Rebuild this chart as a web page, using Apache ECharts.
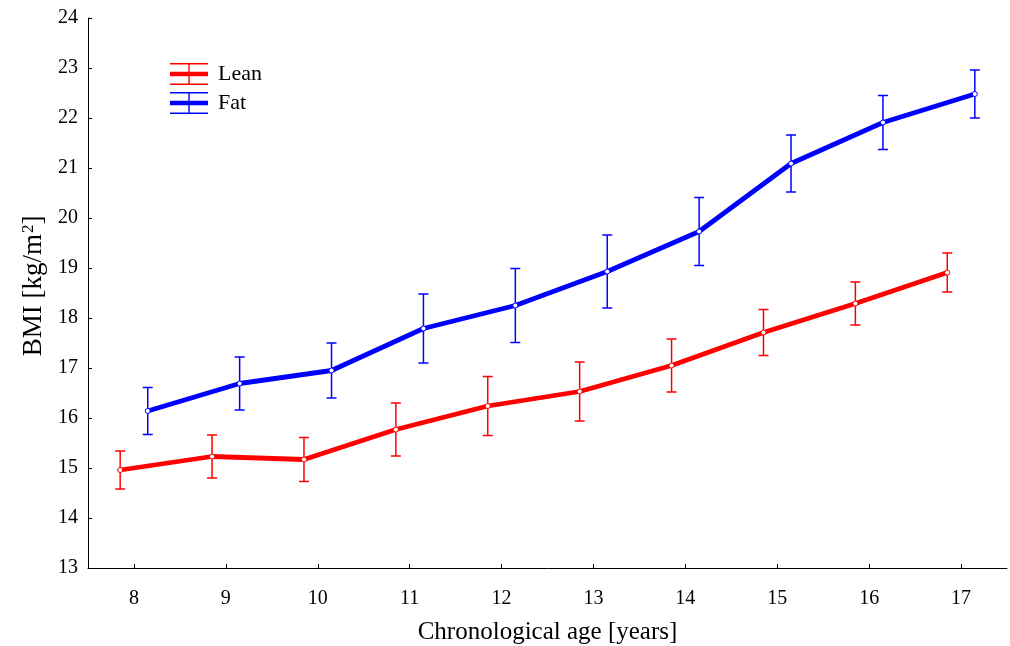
<!DOCTYPE html>
<html>
<head>
<meta charset="utf-8">
<title>BMI by chronological age</title>
<script src="https://cdn.jsdelivr.net/npm/echarts@6/dist/echarts.min.js"></script>
<style>
  html, body { margin: 0; padding: 0; background: #ffffff; }
  #chart { width: 1010px; height: 646px; }
</style>
</head>
<body>
<div id="chart"></div>
<script>
// Age groups (years) and the horizontal nudge that keeps the two groups apart
const ages = [8, 9, 10, 11, 12, 13, 14, 15, 16, 17];
const groupOffset = 0.15;

// Mean BMI and error-bar half widths for each group
const leanMean = [14.96, 15.23, 15.17, 15.77, 16.24, 16.53, 17.05, 17.71, 18.29, 18.91];
const leanErr  = [0.38, 0.43, 0.44, 0.53, 0.59, 0.59, 0.53, 0.46, 0.43, 0.39];
const fatMean  = [16.14, 16.69, 16.95, 17.79, 18.25, 18.93, 19.73, 21.09, 21.91, 22.48];
const fatErr   = [0.47, 0.53, 0.55, 0.69, 0.74, 0.73, 0.68, 0.57, 0.54, 0.48];

// Y axis tick labels
const bmiTicks = [13, 14, 15, 16, 17, 18, 19, 20, 21, 22, 23, 24];

const RED = '#ff0000';
const BLUE = '#0000ff';
const FONT = "'Liberation Serif', 'Times New Roman', serif";

function points(means, shift) {
  return ages.map((a, i) => [a + shift, means[i]]);
}
function bars(means, errs, shift) {
  return ages.map((a, i) => [a + shift, means[i] - errs[i], means[i] + errs[i]]);
}

// Vertical whisker with caps, positioned through the axis scales
function whisker(color) {
  return function (params, api) {
    const x = api.value(0);
    const lo = api.coord([x, api.value(1)]);
    const hi = api.coord([x, api.value(2)]);
    const cap = 5;
    const style = { stroke: color, lineWidth: 1.5, fill: null };
    return {
      type: 'group',
      children: [
        { type: 'line', shape: { x1: lo[0], y1: lo[1], x2: hi[0], y2: hi[1] }, style },
        { type: 'line', shape: { x1: hi[0] - cap, y1: hi[1], x2: hi[0] + cap, y2: hi[1] }, style },
        { type: 'line', shape: { x1: lo[0] - cap, y1: lo[1], x2: lo[0] + cap, y2: lo[1] }, style }
      ]
    };
  };
}

// Legend key: thick line crossed by a capped whisker
const legendIcon = 'path://M0,0H38V1.4H0Z M0,20.6H38V22H0Z M18.3,0H19.7V22H18.3Z M0,8.8H38V13.2H0Z';

const chart = echarts.init(document.getElementById('chart'), null, { renderer: 'canvas' });

chart.setOption({
  backgroundColor: '#ffffff',
  animation: false,
  textStyle: { fontFamily: FONT, color: '#000' },
  grid: { left: 88, right: 3, top: 18, bottom: 78, outerBoundsMode: 'none' },
  legend: {
    left: 165,
    top: 58,
    orient: 'vertical',
    itemWidth: 38,
    itemHeight: 22,
    itemGap: 7,
    textStyle: { fontFamily: FONT, fontSize: 22, color: '#000', padding: [0, 0, 0, 5] },
    data: [
      { name: 'Lean', icon: legendIcon, itemStyle: { color: RED, borderWidth: 0 } },
      { name: 'Fat', icon: legendIcon, itemStyle: { color: BLUE, borderWidth: 0 } }
    ]
  },
  xAxis: {
    type: 'value',
    min: 7.5,
    max: 17.5,
    name: 'Chronological age [years]',
    nameLocation: 'middle',
    nameGap: 52,
    nameTextStyle: { fontFamily: FONT, fontSize: 25, color: '#000' },
    splitLine: { show: false },
    axisLine: { show: true, lineStyle: { color: '#000', width: 1 } },
    axisTick: { show: true, inside: true, length: 4, customValues: ages, lineStyle: { color: '#000' } },
    axisLabel: { customValues: ages, margin: 21, fontFamily: FONT, fontSize: 20, color: '#000' }
  },
  yAxis: {
    type: 'value',
    min: bmiTicks[0],
    max: bmiTicks[bmiTicks.length - 1],
    interval: 1,
    name: 'BMI [kg/m{sup|2}]',
    nameLocation: 'middle',
    nameGap: 40,
    nameRotate: 90,
    nameTextStyle: {
      fontFamily: FONT, fontSize: 27, color: '#000', padding: [0, 0, 0, 14],
      rich: { sup: { fontFamily: FONT, fontSize: 17, color: '#000', verticalAlign: 'top', padding: [0, 0, 11, 1] } }
    },
    splitLine: { show: false },
    axisLine: { show: true, lineStyle: { color: '#000', width: 1 } },
    axisTick: { show: true, inside: true, length: 4, lineStyle: { color: '#000' } },
    axisLabel: { margin: 10, fontFamily: FONT, fontSize: 20, color: '#000' }
  },
  series: [
    {
      name: 'Lean err',
      type: 'custom',
      renderItem: whisker(RED),
      encode: { x: 0, y: [1, 2] },
      data: bars(leanMean, leanErr, -groupOffset),
      z: 2,
      silent: true
    },
    {
      name: 'Fat err',
      type: 'custom',
      renderItem: whisker(BLUE),
      encode: { x: 0, y: [1, 2] },
      data: bars(fatMean, fatErr, groupOffset),
      z: 2,
      silent: true
    },
    {
      name: 'Lean',
      type: 'line',
      data: points(leanMean, -groupOffset),
      symbol: 'circle',
      symbolSize: 5,
      lineStyle: { color: RED, width: 4.8 },
      itemStyle: { color: '#ffffff', borderColor: RED, borderWidth: 1 },
      z: 3
    },
    {
      name: 'Fat',
      type: 'line',
      data: points(fatMean, groupOffset),
      symbol: 'circle',
      symbolSize: 5,
      lineStyle: { color: BLUE, width: 4.8 },
      itemStyle: { color: '#ffffff', borderColor: BLUE, borderWidth: 1 },
      z: 3
    }
  ]
});
</script>
</body>
</html>
